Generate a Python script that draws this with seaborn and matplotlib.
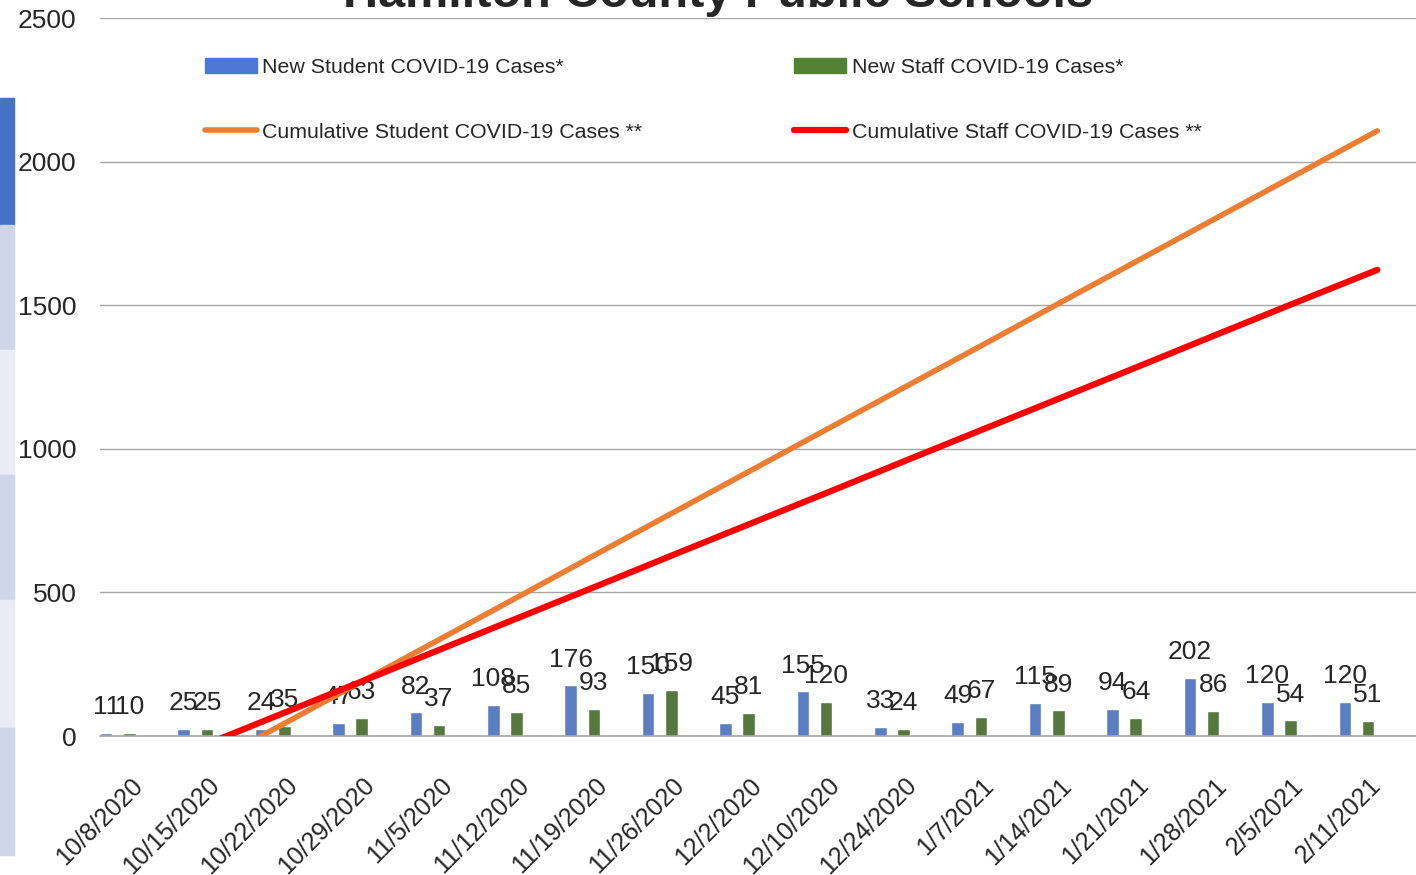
import numpy as np
import pandas as pd
import matplotlib.pyplot as plt
import seaborn as sns
from matplotlib.patches import Patch, Rectangle
from matplotlib.lines import Line2D

# Weekly values
dates = ['10/8/2020', '10/15/2020', '10/22/2020', '10/29/2020', '11/5/2020',
         '11/12/2020', '11/19/2020', '11/26/2020', '12/2/2020', '12/10/2020',
         '12/24/2020', '1/7/2021', '1/14/2021', '1/21/2021', '1/28/2021',
         '2/5/2021', '2/11/2021']
new_students = [11, 25, 24, 47, 82, 108, 176, 150, 45, 155, 33, 49, 115, 94, 202, 120, 120]
new_staff = [10, 25, 35, 63, 37, 85, 93, 159, 81, 120, 24, 67, 89, 64, 86, 54, 51]
cum_students = [-231, -85, 61, 207, 353, 499, 646, 792, 938, 1084, 1230, 1376,
                1523, 1669, 1815, 1961, 2107]
cum_staff = [-124, -15, 94, 203, 313, 422, 531, 641, 750, 859, 969, 1078,
             1187, 1296, 1406, 1515, 1623]

labels = ['New Student COVID-19 Cases*', 'Cumulative Student COVID-19 Cases **',
          'New Staff COVID-19 Cases*', 'Cumulative Staff COVID-19 Cases **']

blue = '#4a78d4'
green = '#548235'
orange = '#ed7d31'
red = '#ff0000'
grey = '#a6a6a6'

sns.set_style('white')
plt.rcParams['font.family'] = ['Liberation Sans', 'DejaVu Sans']

bars = pd.DataFrame({
    'date': dates * 2,
    'cases': new_students + new_staff,
    'series': ['student'] * len(dates) + ['staff'] * len(dates),
})

fig = plt.figure(figsize=(14.16, 8.75), dpi=100)
ax = fig.add_axes([100 / 1416, 1 - 736 / 875, 1 - 100 / 1416, 718 / 875])

sns.barplot(data=bars, x='date', y='cases', hue='series', palette=[blue, green],
            width=0.6, gap=0.46, legend=False, ax=ax, zorder=2)
# Excel leaves the bars to the left of each category slot
for bar in ax.patches:
    bar.set_x(bar.get_x() - 0.27)

for cont in ax.containers:
    for t in ax.bar_label(cont, padding=10, fontsize=19):
        t.set_zorder(3)

idx = np.arange(len(dates))
sns.lineplot(x=idx, y=cum_students, color=orange, linewidth=4, ax=ax, zorder=5,
             solid_capstyle='round')
sns.lineplot(x=idx, y=cum_staff, color=red, linewidth=4.5, ax=ax, zorder=6,
             solid_capstyle='round')

ax.set_xlim(-0.5, -0.5 + 1316 / 78)
ax.set_ylim(0, 2500)
ax.set_yticks(range(0, 2501, 500))
ax.set_xlabel('')
ax.set_ylabel('')

ax.set_xticks(idx)
ax.set_xticklabels(dates, rotation=45, ha='right', va='center', rotation_mode='anchor')
ax.set_xticks(np.arange(-0.5, len(dates), 1), minor=True)
ax.tick_params(axis='x', which='major', length=0, pad=33, labelsize=18)
ax.tick_params(axis='x', which='minor', length=6, width=1, color=grey)
ax.tick_params(axis='y', length=0, pad=17, labelsize=19)

for s in ['left', 'right', 'top']:
    ax.spines[s].set_visible(False)
ax.spines['bottom'].set_color(grey)
ax.spines['bottom'].set_linewidth(1.2)
ax.yaxis.grid(True, color=grey, linewidth=1)
ax.xaxis.grid(False)
ax.set_axisbelow(True)

handles = [Patch(color=blue),
           Line2D([], [], color=orange, lw=4, solid_capstyle='round'),
           Patch(color=green),
           Line2D([], [], color=red, lw=4.5, solid_capstyle='round')]
fig.legend(handles, labels, ncol=2, loc='upper left',
           bbox_to_anchor=(205 / 1416, 1 - 58 / 875), frameon=False, fontsize=15.4,
           handlelength=2.43, handletextpad=0.25, columnspacing=7.1,
           labelspacing=2.15, borderpad=0, borderaxespad=0)

fig.text(718 / 1416, 1 - 7 / 875, 'Hamilton County Public Schools',
         ha='center', va='baseline', fontsize=35, fontweight='bold')

# slide-table edge on the left
bands = [(98, 225, '#4472c4'), (225, 350, '#cfd5ea'), (350, 475, '#e9ebf5'),
         (475, 600, '#cfd5ea'), (600, 728, '#e9ebf5'), (728, 855, '#cfd5ea')]
for top, bottom, col in bands:
    fig.patches.append(Rectangle((0, 1 - bottom / 875), 14 / 1416, (bottom - top) / 875,
                                 transform=fig.transFigure, color=col, zorder=0))

fig.savefig('out.png', dpi=100)
